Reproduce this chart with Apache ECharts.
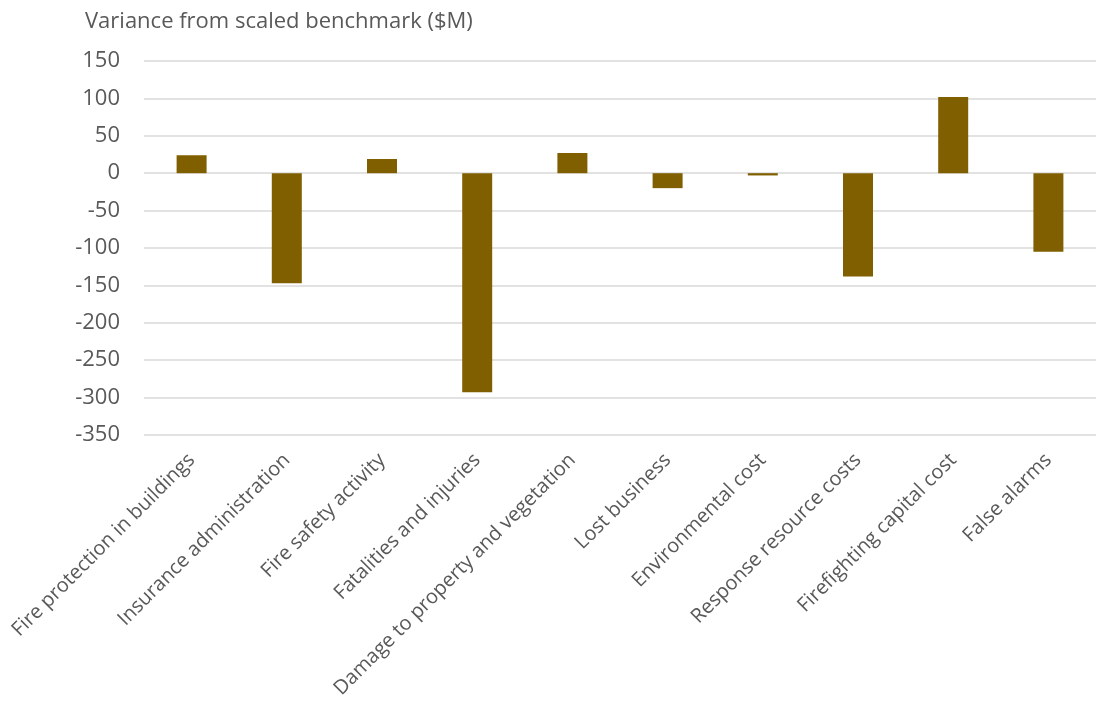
<!DOCTYPE html>
<html>
<head>
<meta charset="utf-8">
<script src="https://cdn.jsdelivr.net/npm/echarts@6/dist/echarts.min.js"></script>
<style>
  html, body { margin: 0; padding: 0; background: #fff; }
  #main { width: 1096px; height: 704px; }
</style>
</head>
<body>
<div id="main"></div>
<script>
var categories = [
  'Fire protection in buildings',
  'Insurance administration',
  'Fire safety activity',
  'Fatalities and injuries',
  'Damage to property and vegetation',
  'Lost business',
  'Environmental cost',
  'Response resource costs',
  'Firefighting capital cost',
  'False alarms'
];
var variance = [24, -147, 19, -293, 27, -20, -3, -138, 102, -105];

var chartDom = document.getElementById('main');
var myChart = echarts.init(chartDom);
var textColor = '#595959';
var font = '"Open Sans", "Noto Sans", sans-serif';

var option = {
  animation: false,
  textStyle: { fontFamily: font },
  title: {
    text: 'Variance from scaled benchmark ($M)',
    left: 80,
    top: 6,
    textStyle: {
      fontFamily: font,
      fontSize: 22,
      fontWeight: 'normal',
      color: textColor
    }
  },
  grid: {
    left: 144,
    top: 61,
    width: 963,
    bottom: 269
  },
  xAxis: {
    type: 'category',
    data: categories,
    axisLine: { show: false },
    axisTick: { show: false },
    axisLabel: {
      rotate: 45,
      interval: 0,
      margin: 22,
      fontSize: 20,
      color: textColor,
      fontFamily: font
    }
  },
  yAxis: {
    type: 'value',
    min: -350,
    max: 150,
    interval: 50,
    axisLine: { show: false },
    axisTick: { show: false },
    axisLabel: {
      margin: 24,
      fontSize: 22,
      color: textColor,
      fontFamily: font
    },
    splitLine: {
      lineStyle: { color: '#d9d9d9', width: 1.5 }
    }
  },
  series: [{
    type: 'bar',
    data: variance,
    barWidth: 30,
    itemStyle: { color: '#7f5f00' }
  }]
};

option && myChart.setOption(option);
</script>
</body>
</html>
